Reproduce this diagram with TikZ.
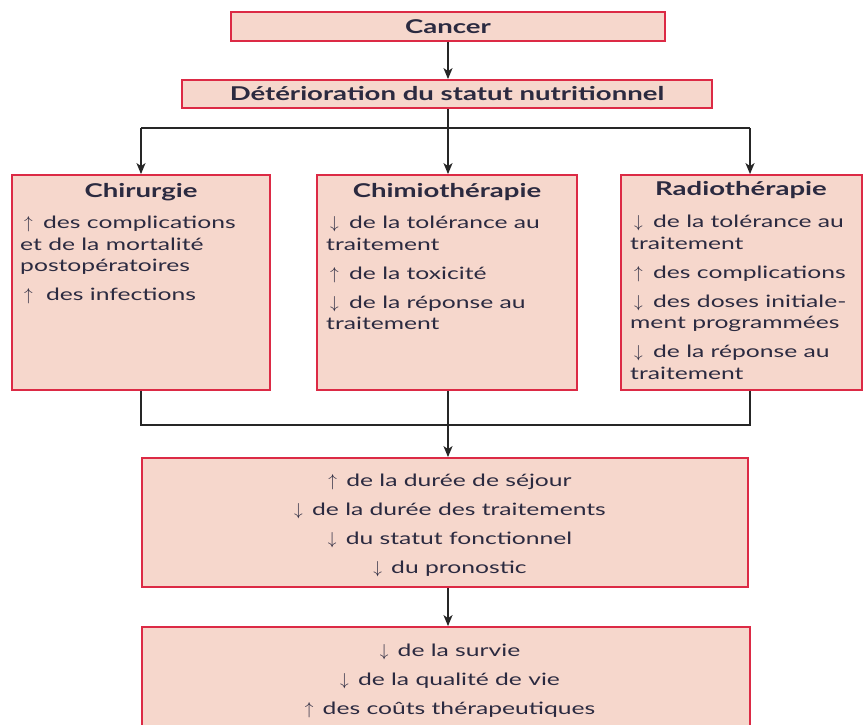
\documentclass[tikz,border=0pt]{standalone}
\usepackage{fontspec}
\setmainfont{Lato}[FakeStretch=1.45]
\newfontfamily\headfont{Lato}[FakeStretch=1.45]
\usetikzlibrary{arrows.meta}
\definecolor{boxfill}{HTML}{F6D7CC}
\definecolor{boxline}{HTML}{DC2A45}
\definecolor{txt}{HTML}{2B2A40}
\newcommand{\myup}{\hspace{4pt}$\uparrow$\hspace{4pt}\ }
\newcommand{\mydn}{\hspace{4pt}$\downarrow$\hspace{4pt}\ }
\newcommand{\myCup}{$\uparrow$\hspace{3pt}\ }
\newcommand{\myCdn}{$\downarrow$\hspace{3pt}\ }
\begin{document}
\begin{tikzpicture}[x=1pt,y=-1pt,
  box/.style={draw=boxline,fill=boxfill,line width=1.8pt,inner sep=0pt},
  head/.style={font=\headfont\fontsize{19}{22}\selectfont\bfseries,text=txt,inner sep=0pt},
  body/.style={font=\fontsize{17}{21.5}\selectfont,text=txt,inner sep=0pt,align=left,anchor=north west},
  cbody/.style={font=\fontsize{17}{29}\selectfont,text=txt,inner sep=0pt,align=center},
  conn/.style={line width=1.6pt,black!85},
  arr/.style={conn,-{Stealth[length=11pt,width=9pt,inset=3pt]}}]
\useasboundingbox (0,0) rectangle (867,724);
% boxes
\node[box,minimum width=434pt,minimum height=29pt] (cancer) at (448,26.5) {};
\node[head] (tcancer) at (cancer.center) {Cancer};
\node[box,minimum width=530pt,minimum height=28pt] (det) at (447,94) {};
\node[head] (tdet) at (det.center) {Détérioration du statut nutritionnel};
\node[box,minimum width=258pt,minimum height=215pt] (chir) at (141,282.5) {};
\node[box,minimum width=260pt,minimum height=215pt] (chim) at (447,282.5) {};
\node[box,minimum width=241pt,minimum height=215pt] (rad) at (741.5,282.5) {};
\node[box,minimum width=606pt,minimum height=129pt] (mid) at (445,522.5) {};
\node[box,minimum width=608pt,minimum height=110pt] (bot) at (446,682) {};
% headings
\node[head] (hchir) at (141,192) {Chirurgie};
\node[head] (hchim) at (447,192) {Chimiothérapie};
\node[head] (hrad) at (741,190) {Radiothérapie};
% body texts
\node[body] (bchir) at (20,216) {\myup des complications\\et de la mortalité\\postopératoires\\[7.5pt]\myup\hspace{3pt}des infections};
\node[body] (bchim) at (326,216) {\mydn de la tolérance au\\traitement\\[7.5pt]\myup de la toxicité\\[7.5pt]\mydn de la réponse au\\traitement};
\node[body] (brad) at (630,215) {\mydn de la tolérance au\\traitement\\[7.5pt]\myup des complications\\[7.5pt]\mydn des doses initiale-\\ment programmées\\[7.5pt]\mydn de la réponse au\\traitement};
\node[cbody] (bmid) at (450,525) {\myCup de la durée de séjour\\\myCdn de la durée des traitements\\\myCdn du statut fonctionnel\\\myCdn du pronostic};
\node[cbody] (bbot) at (450,681) {\myCdn de la survie\\\myCdn de la qualité de vie\\\myCup des coûts thérapeutiques};
% connectors
\coordinate (j1) at (448,128);
\coordinate (jl) at (141,128);
\coordinate (jr) at (750,128);
\coordinate (k1) at (448,425);
\coordinate (kl) at (141,425);
\coordinate (kr) at (750,425);
\draw[arr] (cancer.south -| j1) -- (det.north -| j1);
\draw[conn] (det.south -| j1) -- (j1);
\draw[conn] (jl) -- (jr);
\draw[arr] (jl) -- (chir.north -| jl);
\draw[arr] (j1) -- (chim.north -| j1);
\draw[arr] (jr) -- (rad.north -| jr);
\draw[conn] (chir.south -| kl) -- (kl) -- (kr) -- (rad.south -| kr);
\draw[arr] (chim.south -| k1) -- (mid.north -| k1);
\draw[arr] (mid.south -| k1) -- (bot.north -| k1);
\end{tikzpicture}
\end{document}
